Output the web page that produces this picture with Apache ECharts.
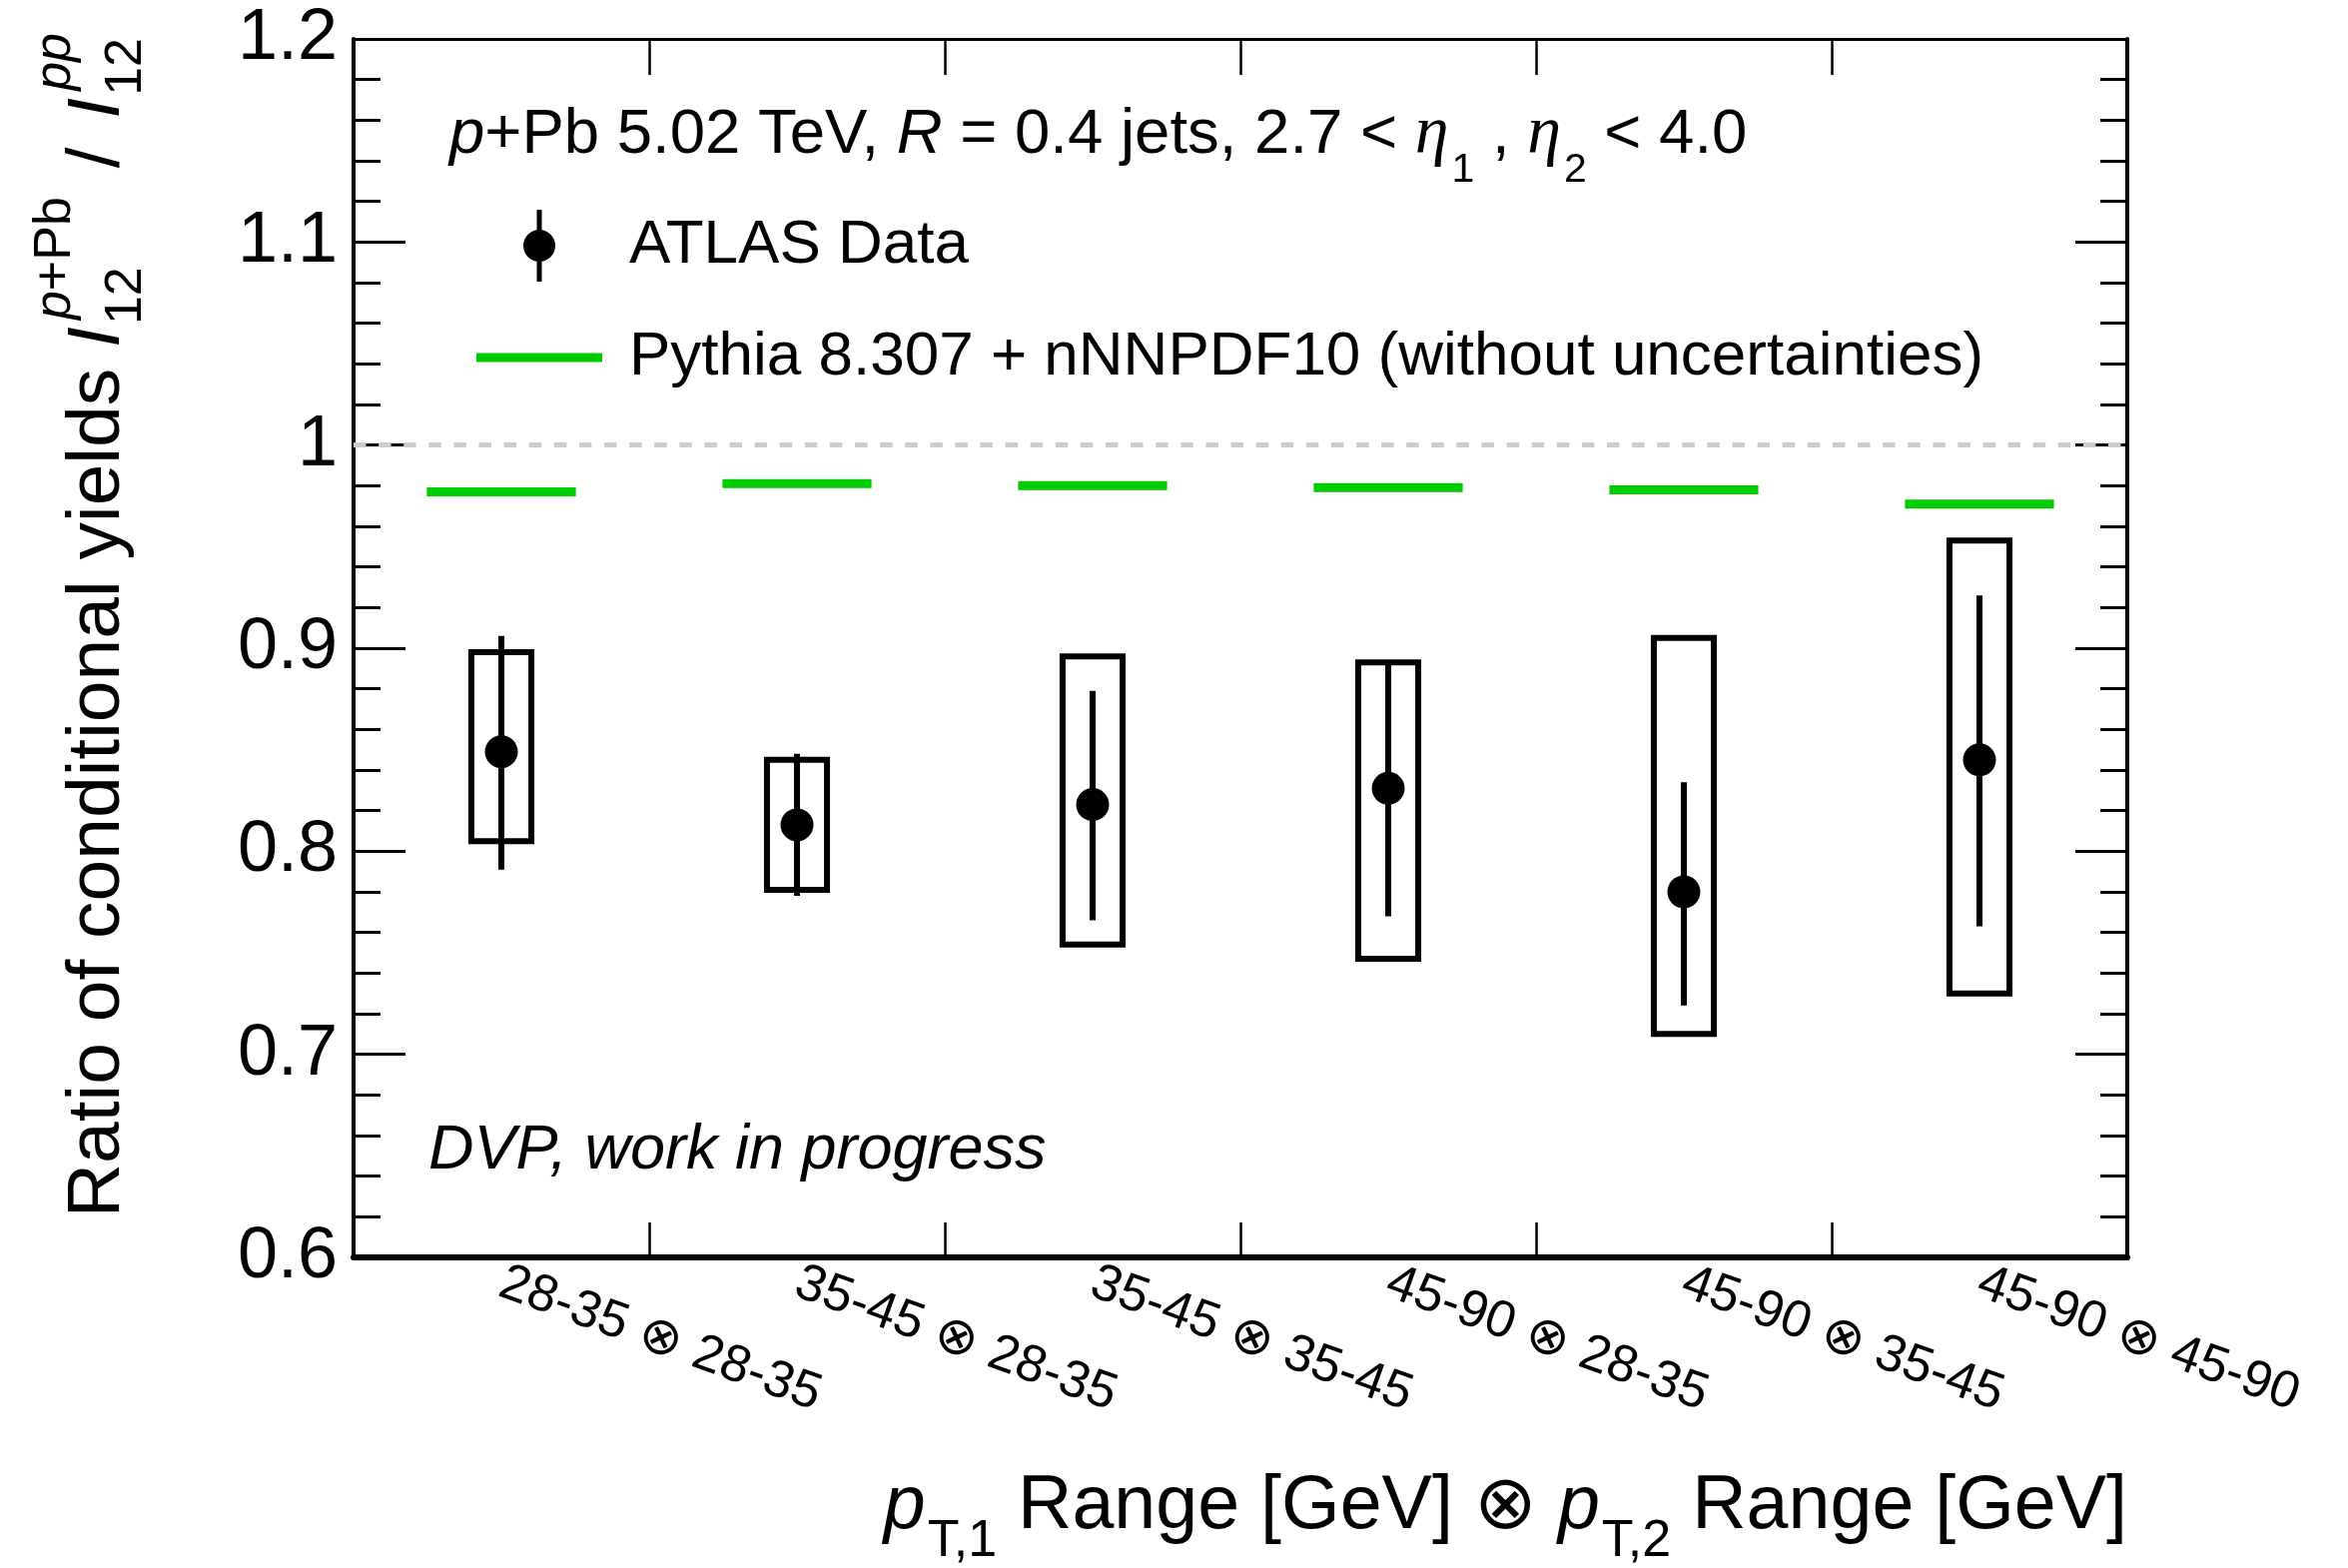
<!DOCTYPE html>
<html>
<head>
<meta charset="utf-8">
<title>Ratio of conditional yields</title>
<script src="https://cdn.jsdelivr.net/npm/echarts@6/dist/echarts.min.js"></script>
<style>
  html, body { margin: 0; padding: 0; background: #fff; }
  #chart { width: 2351px; height: 1570px; }
</style>
</head>
<body>
<div id="chart"></div>
<script>
// pT1 (x) pT2 bins, in GeV
const categories = [
  '28-35 \u2297 28-35',
  '35-45 \u2297 28-35',
  '35-45 \u2297 35-45',
  '45-90 \u2297 28-35',
  '45-90 \u2297 35-45',
  '45-90 \u2297 45-90'
];
// measured ratio I12(p+Pb) / I12(pp)
const ratio    = [0.849, 0.813, 0.823, 0.831, 0.780, 0.845];
// statistical uncertainty band (low / high edge)
const statLow  = [0.791, 0.778, 0.766, 0.768, 0.724, 0.763];
const statHigh = [0.906, 0.848, 0.879, 0.894, 0.834, 0.926];
// systematic uncertainty box (low / high edge)
const sysLow   = [0.805, 0.781, 0.754, 0.747, 0.710, 0.730];
const sysHigh  = [0.898, 0.845, 0.896, 0.893, 0.905, 0.953];
// Pythia 8.307 + nNNPDF10 prediction
const pythia   = [0.977, 0.981, 0.980, 0.979, 0.978, 0.971];
// y axis
const yTicks = { min: 0.6, max: 1.2, step: 0.1 };

const SANS = "'Liberation Sans', 'DejaVu Sans', sans-serif";
const SERIF = "'Liberation Serif', 'DejaVu Serif', serif";
const PYTHIA_NAME = 'Pythia 8.307 + nNNPDF10 (without uncertainties)';

// ---- small text layout helper for sub/superscripts ----
const mctx = document.createElement('canvas').getContext('2d');
function fontOf(p) {
  return (p.italic ? 'italic ' : '') + p.size + 'px ' + (p.family || SANS);
}
function baseOff(font) {
  mctx.font = font;
  mctx.textBaseline = 'middle';
  return mctx.measureText('H').actualBoundingBoxDescent;
}
function adv(text, font) {
  mctx.font = font;
  mctx.textBaseline = 'alphabetic';
  return mctx.measureText(text).width;
}
// lays out pieces along a baseline at y = 0; a piece may be a stack of runs sharing one x
function layout(pieces, defSize) {
  const els = [];
  let x = 0;
  function run(parts, x0) {
    let cx = x0;
    parts.forEach(p => {
      const q = Object.assign({ size: defSize }, p);
      const font = fontOf(q);
      cx += q.dx || 0;
      els.push({
        type: 'text', x: cx, y: (q.dy || 0) - baseOff(font), silent: true,
        style: { text: q.text, font: font, fill: '#000',
                 align: 'left', verticalAlign: 'middle',
                 textAlign: 'left', textVerticalAlign: 'middle' }
      });
      cx += adv(q.text, font);
    });
    return cx - x0;
  }
  pieces.forEach(pc => {
    if (pc.stack) {
      let w = 0;
      pc.stack.forEach(r => { w = Math.max(w, run(r, x)); });
      x += w;
    } else {
      x += run([pc], x);
    }
  });
  return { els, width: x };
}

// header line
const header = layout([
  { text: 'p', italic: true },
  { text: '+Pb 5.02 TeV, ' },
  { text: 'R', italic: true },
  { text: ' = 0.4 jets, 2.7 < ' },
  { text: '\u03b7', italic: true, family: SERIF, size: 68 },
  { text: '1', size: 41, dy: 29, dx: 3 },
  { text: ' , ' },
  { text: '\u03b7', italic: true, family: SERIF, size: 68 },
  { text: '2', size: 41, dy: 29, dx: 3 },
  { text: ' < 4.0' }
], 63.5);

// work-in-progress tag
const tag = layout([{ text: 'DVP, work in progress', italic: true }], 63);

// x axis title
const xTitle = layout([
  { text: 'p', italic: true },
  { text: 'T,1', size: 52, dy: 28, dx: 2 },
  { text: ' Range [GeV] \u2297 ' },
  { text: 'p', italic: true },
  { text: 'T,2', size: 52, dy: 28, dx: 2 },
  { text: ' Range [GeV]' }
], 75.4);

// y axis title (rotated)
const yTitle = layout([
  { text: 'Ratio of conditional yields ' },
  { text: 'I', italic: true },
  { stack: [
      [{ text: '12', size: 52, dy: 22, dx: 2 }],
      [{ text: 'p', size: 52, dy: -49, italic: true, dx: 7 }, { text: '+Pb', size: 52, dy: -49 }]
  ] },
  { text: ' / ', dx: 8 },
  { text: 'I', italic: true, dx: 8 },
  { stack: [
      [{ text: '12', size: 52, dy: 22, dx: 2 }],
      [{ text: 'pp', size: 52, dy: -49, italic: true, dx: 7 }]
  ] }
], 75);

// plot frame (pixels)
const frame = { left: 354, right: 2130, top: 39, bottom: 1259 };

const chart = echarts.init(document.getElementById('chart'), null, { renderer: 'canvas' });

function renderSys(params, api) {
  const i = api.value(0);
  const lo = api.coord([i, api.value(1)]);
  const hi = api.coord([i, api.value(2)]);
  const w = api.size([1, 0])[0] * 0.203;
  return {
    type: 'rect',
    shape: { x: lo[0] - w / 2, y: hi[1], width: w, height: lo[1] - hi[1] },
    style: { fill: 'none', stroke: '#000', lineWidth: 6 }
  };
}
function renderStat(params, api) {
  const i = api.value(0);
  const lo = api.coord([i, api.value(1)]);
  const hi = api.coord([i, api.value(2)]);
  return {
    type: 'line',
    shape: { x1: lo[0], y1: lo[1], x2: hi[0], y2: hi[1] },
    style: { stroke: '#000', lineWidth: 6 }
  };
}
function renderModel(params, api) {
  const i = api.value(0);
  const c = api.coord([i, api.value(1)]);
  const half = api.size([1, 0])[0] * 0.252;
  return {
    type: 'line',
    shape: { x1: c[0] - half, y1: c[1], x2: c[0] + half, y2: c[1] },
    style: { stroke: '#00cc00', lineWidth: 9 }
  };
}

const yCommon = {
  type: 'value',
  min: yTicks.min, max: yTicks.max, interval: yTicks.step,
  splitLine: { show: false },
  axisTick: { show: true, inside: true, length: 52, lineStyle: { color: '#000', width: 3 } },
  minorTick: { show: true, splitNumber: 5, length: 27, lineStyle: { color: '#000', width: 3 } },
  minorSplitLine: { show: false }
};

const option = {
  backgroundColor: '#fff',
  animation: false,
  grid: {
    left: frame.left, right: 2351 - frame.right,
    top: frame.top, bottom: 1570 - frame.bottom,
    containLabel: false
  },
  xAxis: [
    {
      type: 'category', data: categories, position: 'bottom', boundaryGap: true,
      axisLine: { show: true, onZero: false, lineStyle: { color: '#000', width: 6 } },
      axisTick: { show: true, inside: true, length: 35, lineStyle: { color: '#000', width: 2.5 } },
      axisLabel: { show: true, rotate: -20, margin: 24, fontSize: 52, fontFamily: SANS, color: '#000', interval: 0 },
      splitLine: { show: false }
    },
    {
      type: 'category', data: categories, position: 'top', boundaryGap: true,
      axisLine: { show: true, onZero: false, lineStyle: { color: '#000', width: 3 } },
      axisTick: { show: true, inside: true, length: 36, lineStyle: { color: '#000', width: 2.5 } },
      axisLabel: { show: false },
      splitLine: { show: false }
    }
  ],
  yAxis: [
    Object.assign({}, yCommon, {
      position: 'left',
      axisLine: { show: true, onZero: false, lineStyle: { color: '#000', width: 4 } },
      axisLabel: { show: true, fontSize: 72, fontFamily: SANS, color: '#000', margin: 16 }
    }),
    Object.assign({}, yCommon, {
      position: 'right',
      axisLine: { show: true, onZero: false, lineStyle: { color: '#000', width: 4 } },
      axisLabel: { show: false }
    })
  ],
  legend: {
    orient: 'vertical', left: 477, top: 210, padding: 0,
    itemWidth: 126, itemHeight: 72, itemGap: 45,
    selectedMode: false,
    textStyle: { fontSize: 62, fontFamily: SANS, color: '#000', padding: [0, 0, 0, 22] },
    data: [
      { name: 'ATLAS Data',
        icon: 'path://M13.5,0h5v72h-5z M0,36a16,16 0 1,1 32,0a16,16 0 1,1 -32,0z' },
      { name: PYTHIA_NAME, icon: 'path://M0,0h126v9h-126z' }
    ]
  },
  series: [
    {
      name: 'Systematic uncertainty', type: 'custom', z: 2,
      renderItem: renderSys,
      encode: { x: 0, y: [1, 2] },
      data: categories.map((c, i) => [i, sysLow[i], sysHigh[i]]),
      markLine: {
        silent: true, symbol: ['none', 'none'], label: { show: false },
        lineStyle: { color: '#cccccc', width: 5, type: [12.5, 12.6] },
        emphasis: { disabled: true },
        data: [{ yAxis: 1 }]
      }
    },
    {
      name: 'Statistical uncertainty', type: 'custom', z: 3,
      renderItem: renderStat,
      encode: { x: 0, y: [1, 2] },
      data: categories.map((c, i) => [i, statLow[i], statHigh[i]])
    },
    {
      name: PYTHIA_NAME, type: 'custom', z: 3,
      renderItem: renderModel,
      itemStyle: { color: '#00cc00' },
      encode: { x: 0, y: 1 },
      data: categories.map((c, i) => [i, pythia[i]])
    },
    {
      name: 'ATLAS Data', type: 'scatter', z: 4,
      symbol: 'circle', symbolSize: 33,
      itemStyle: { color: '#000', opacity: 1 },
      data: categories.map((c, i) => [i, ratio[i]])
    }
  ],
  graphic: { elements: [
    { type: 'group', x: 450, y: 153, children: header.els },
    { type: 'group', x: 429, y: 1170, children: tag.els },
    { type: 'group', x: frame.right - xTitle.width, y: 1530, children: xTitle.els },
    { type: 'group', x: 119, y: 33 + yTitle.width, rotation: Math.PI / 2, children: yTitle.els }
  ] }
};

chart.setOption(option);
</script>
</body>
</html>
